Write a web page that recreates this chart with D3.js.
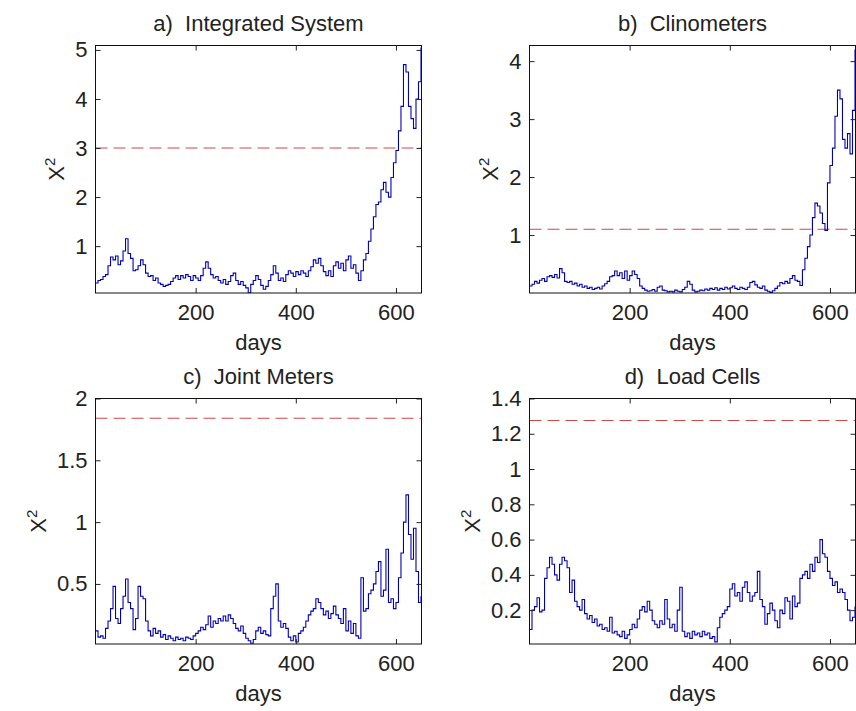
<!DOCTYPE html>
<html>
<head>
<meta charset="utf-8">
<script src="https://cdn.jsdelivr.net/npm/d3@7"></script>
<style>
  body { margin: 0; background: #fff; }
  text { font-family: "Liberation Sans", Arial, sans-serif; fill: #222; }
</style>
</head>
<body>
<svg id="fig" width="856" height="711"></svg>
<script>
// sampling grid (days), one reading every 5 days
var days = d3.range(0, 651, 5);

var integrated = [0.25,0.3,0.32,0.38,0.42,0.6,0.78,0.72,0.8,0.62,
  0.7,0.9,1.15,0.85,0.75,0.5,0.52,0.6,0.72,0.62,
  0.45,0.38,0.4,0.3,0.35,0.25,0.22,0.18,0.2,0.22,
  0.28,0.35,0.4,0.32,0.4,0.35,0.42,0.38,0.3,0.4,
  0.35,0.3,0.4,0.55,0.68,0.55,0.42,0.35,0.38,0.3,
  0.25,0.32,0.22,0.28,0.4,0.45,0.3,0.22,0.28,0.2,
  0.15,0.05,0.22,0.3,0.4,0.32,0.2,0.12,0.18,0.3,
  0.42,0.6,0.45,0.3,0.35,0.28,0.42,0.5,0.45,0.38,
  0.48,0.42,0.5,0.45,0.38,0.5,0.58,0.72,0.65,0.75,
  0.6,0.48,0.4,0.5,0.38,0.6,0.68,0.55,0.65,0.5,
  0.72,0.8,0.55,0.62,0.45,0.3,0.5,0.72,0.85,1.1,
  1.35,1.6,1.85,1.9,2.15,2.3,2.1,2.0,2.4,2.7,
  2.95,3.35,3.85,4.7,4.55,3.85,3.6,3.4,4.0,4.35,
  5.05];

var clinometers = [0.12,0.15,0.2,0.17,0.22,0.25,0.2,0.28,0.3,0.27,
  0.32,0.26,0.42,0.35,0.2,0.18,0.2,0.15,0.17,0.12,
  0.15,0.1,0.12,0.08,0.1,0.06,0.08,0.1,0.07,0.12,
  0.16,0.2,0.28,0.3,0.38,0.3,0.35,0.25,0.38,0.22,
  0.3,0.38,0.32,0.25,0.12,0.08,0.05,0.03,0.04,0.06,
  0.03,0.1,0.12,0.05,0.04,0.02,0.03,0.02,0.05,0.03,
  0.02,0.06,0.1,0.2,0.15,0.05,0.02,0.03,0.05,0.04,
  0.07,0.05,0.08,0.06,0.09,0.05,0.08,0.06,0.1,0.07,
  0.09,0.12,0.08,0.06,0.1,0.08,0.06,0.1,0.18,0.2,
  0.14,0.1,0.08,0.12,0.05,0.03,0.01,0.04,0.08,0.12,
  0.18,0.16,0.2,0.17,0.25,0.3,0.22,0.2,0.13,0.4,
  0.6,0.8,1.0,1.3,1.55,1.5,1.38,1.2,1.08,1.9,
  2.2,2.5,3.05,3.5,3.35,2.65,2.5,2.75,2.4,3.15,
  4.2];

var jointMeters = [0.12,0.07,0.08,0.06,0.14,0.2,0.3,0.48,0.22,0.18,
  0.3,0.4,0.54,0.35,0.3,0.13,0.22,0.48,0.4,0.38,
  0.2,0.12,0.08,0.14,0.1,0.12,0.07,0.09,0.05,0.08,
  0.06,0.04,0.07,0.05,0.06,0.04,0.07,0.06,0.05,0.08,
  0.1,0.12,0.15,0.13,0.17,0.24,0.15,0.2,0.18,0.22,
  0.2,0.24,0.2,0.25,0.22,0.18,0.14,0.12,0.16,0.1,
  0.06,0.04,0.02,0.05,0.12,0.15,0.1,0.12,0.09,0.08,
  0.3,0.4,0.5,0.2,0.15,0.18,0.14,0.07,0.04,0.08,
  0.03,0.1,0.12,0.15,0.2,0.25,0.28,0.3,0.38,0.35,
  0.3,0.25,0.28,0.22,0.26,0.32,0.25,0.22,0.18,0.3,
  0.12,0.2,0.1,0.18,0.08,0.06,0.55,0.28,0.3,0.42,
  0.45,0.5,0.6,0.68,0.4,0.45,0.78,0.35,0.38,0.3,
  0.35,0.55,0.75,1.0,1.22,0.9,0.7,0.95,0.6,0.35,
  0.4];

var loadCells = [0.09,0.2,0.22,0.27,0.19,0.2,0.38,0.44,0.5,0.46,
  0.4,0.37,0.46,0.5,0.48,0.44,0.3,0.37,0.25,0.22,
  0.2,0.26,0.18,0.15,0.17,0.13,0.15,0.11,0.12,0.09,
  0.1,0.08,0.16,0.07,0.08,0.06,0.05,0.08,0.04,0.06,
  0.09,0.12,0.1,0.15,0.2,0.22,0.19,0.25,0.2,0.14,
  0.12,0.1,0.14,0.12,0.26,0.15,0.1,0.12,0.08,0.2,
  0.33,0.08,0.05,0.07,0.04,0.08,0.06,0.07,0.05,0.08,
  0.06,0.07,0.04,0.05,0.02,0.1,0.16,0.18,0.2,0.22,
  0.32,0.35,0.28,0.3,0.25,0.33,0.36,0.3,0.25,0.28,
  0.3,0.42,0.26,0.22,0.12,0.18,0.24,0.2,0.14,0.1,
  0.2,0.18,0.27,0.25,0.15,0.28,0.22,0.24,0.38,0.4,
  0.42,0.38,0.46,0.42,0.5,0.47,0.6,0.52,0.5,0.42,
  0.38,0.34,0.36,0.3,0.32,0.3,0.26,0.2,0.14,0.16,
  0.22];

var titles = ["a)  Integrated System", "b)  Clinometers", "c)  Joint Meters", "d)  Load Cells"];
var series = [integrated, clinometers, jointMeters, loadCells];
var limits = [3.0, 1.1, 1.84, 1.275];          // dashed control limits
var yDomains = [[0.045, 5.09], [0.0, 4.27], [0.014, 2.0], [0.008, 1.4]];
var yTicks = [[1, 2, 3, 4, 5], [1, 2, 3, 4], [0.5, 1, 1.5, 2], [0.2, 0.4, 0.6, 0.8, 1, 1.2, 1.4]];
var xDomain = [0, 651];
var xTicks = [200, 400, 600];

// axes boxes (layout)
var boxes = [
  { x: 95.5, y: 45.5, w: 326, h: 247.5 },
  { x: 529.5, y: 45.5, w: 326, h: 247.5 },
  { x: 95.5, y: 398.5, w: 326, h: 245.5 },
  { x: 529.5, y: 398.5, w: 326, h: 245.5 }
];

var svg = d3.select("#fig");
var fontSize = 22;

boxes.forEach(function(b, k) {
  var x = d3.scaleLinear().domain(xDomain).range([b.x, b.x + b.w]);
  var y = d3.scaleLinear().domain(yDomains[k]).range([b.y + b.h, b.y]);
  var g = svg.append("g");

  var clipId = "clip" + k;
  g.append("clipPath").attr("id", clipId)
    .append("rect").attr("x", b.x).attr("y", b.y).attr("width", b.w).attr("height", b.h);

  // dashed limit
  g.append("line")
    .attr("x1", b.x).attr("x2", b.x + b.w)
    .attr("y1", y(limits[k])).attr("y2", y(limits[k]))
    .attr("stroke", "#d04848").attr("stroke-width", 1.1)
    .attr("stroke-dasharray", "12,6");

  // series
  var line = d3.line()
    .x(function(d, i) { return x(days[i]); })
    .y(function(d) { return y(d); })
    .curve(d3.curveStepAfter);
  g.append("path")
    .attr("clip-path", "url(#" + clipId + ")")
    .attr("d", line(series[k]))
    .attr("fill", "none")
    .attr("stroke", "#0000b4")
    .attr("stroke-width", 1.1);

  // ticks on all four sides, pointing inward
  var fmt = function(d) { return String(d); };
  g.append("g").attr("transform", "translate(0," + (b.y + b.h) + ")")
    .call(d3.axisBottom(x).tickValues(xTicks).tickSizeInner(-5).tickSizeOuter(0).tickPadding(11));
  g.append("g").attr("transform", "translate(0," + b.y + ")")
    .call(d3.axisTop(x).tickValues(xTicks).tickSizeInner(-5).tickSizeOuter(0).tickFormat(""));
  var left = g.append("g").attr("transform", "translate(" + b.x + ",0)")
    .call(d3.axisLeft(y).tickValues(yTicks[k]).tickFormat(fmt).tickSizeInner(-5).tickSizeOuter(0).tickPadding(8));
  g.append("g").attr("transform", "translate(" + (b.x + b.w) + ",0)")
    .call(d3.axisRight(y).tickValues(yTicks[k]).tickSizeInner(-5).tickSizeOuter(0).tickFormat(""));

  g.selectAll(".domain").remove();
  g.selectAll(".tick line").attr("stroke", "#222");
  g.selectAll(".tick text").attr("font-size", fontSize).attr("font-family", null).style("fill", "#222");

  // box
  g.append("rect")
    .attr("x", b.x).attr("y", b.y).attr("width", b.w).attr("height", b.h)
    .attr("fill", "none").attr("stroke", "#111").attr("stroke-width", 1);

  // title
  g.append("text")
    .attr("x", b.x + b.w / 2).attr("y", b.y - 15)
    .attr("text-anchor", "middle")
    .attr("font-size", fontSize)
    .style("white-space", "pre")
    .text(titles[k]);

  // x label
  g.append("text")
    .attr("x", b.x + b.w / 2).attr("y", b.y + b.h + 57)
    .attr("text-anchor", "middle")
    .attr("font-size", fontSize)
    .text("days");

  // y label, placed left of the tick labels (bbox is in the axis group's own coordinates)
  var lb = left.node().getBBox();
  var yl = g.append("text")
    .attr("transform", "translate(" + (b.x + lb.x - 11) + "," + (b.y + b.h / 2) + ") rotate(-90)")
    .attr("text-anchor", "middle")
    .attr("font-size", fontSize);
  yl.append("tspan").text("X");
  yl.append("tspan").attr("font-size", 15).attr("dy", -9).text("2");
});
</script>
</body>
</html>
